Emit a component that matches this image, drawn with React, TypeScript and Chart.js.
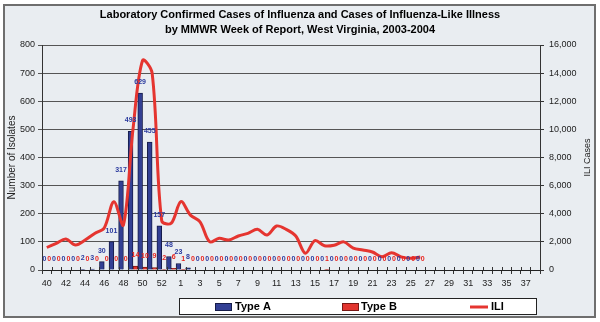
import React, { useEffect, useRef } from 'react';
import { Chart, registerables } from 'chart.js';

Chart.register(...registerables);

// ---- data ----
const weekLabels = [
  '40', '41', '42', '43', '44', '45', '46', '47', '48', '49', '50', '51', '52', '53',
  '1', '2', '3', '4', '5', '6', '7', '8', '9', '10', '11', '12', '13', '14', '15', '16', '17', '18', '19',
  '20', '21', '22', '23', '24', '25', '26', '27', '28', '29', '30', '31', '32', '33', '34', '35', '36', '37', '38',
];

// weeks 40..53, 1..26
const typeA = [
  0, 0, 0, 0, 2, 3, 30, 101, 317, 493, 629, 455, 157, 48,
  23, 8, 0, 0, 0, 0, 0, 0, 0, 0, 0, 0, 0, 0, 0, 0, 0, 0, 0, 0, 0, 0, 0, 0, 0, 0,
];

const typeB = [
  0, 0, 0, 0, 0, 0, 0, 0, 0, 14, 10, 9, 2, 6,
  1, 0, 0, 0, 0, 0, 0, 0, 0, 0, 0, 0, 0, 0, 0, 1, 0, 0, 0, 0, 0, 0, 0, 0, 0, 0,
];

const iliCases = [
  1600, 1900, 2200, 1780, 2130, 2600, 2990, 4860, 3200, 10000, 14900, 14000, 3500, 3330,
  4860, 3900, 3430, 2010, 2250, 2130, 2420, 2610, 2890, 2490, 3130, 2890, 2420, 1190, 2090, 1720,
  1760, 2000, 1560, 1420, 1280, 950, 1230, 930, 830, 930,
];

const titleLines = [
  'Laboratory Confirmed Cases of Influenza and Cases of Influenza-Like Illness',
  'by MMWR Week of Report, West Virginia, 2003-2004',
];
const leftAxisTitle = 'Number of Isolates';
const rightAxisTitle = 'ILI Cases';

const FONT = '"Liberation Sans", Arial, Helvetica, sans-serif';
const BLUE = '#323f94';
const BLUE_EDGE = '#161c4a';
const RED_BAR = '#e2352f';
const RED_EDGE = '#7a1815';
const RED_LINE = '#e53530';
const LABEL_BLUE = '#2a3a9e';
const LABEL_RED = '#e8231e';
const BG = '#e9edf1';

const backgroundPlugin = {
  id: 'bgFrame',
  beforeDraw(chart: any) {
    const { ctx, width, height } = chart;
    ctx.save();
    ctx.fillStyle = '#ffffff';
    ctx.fillRect(0, 0, width, height);
    ctx.fillStyle = BG;
    ctx.fillRect(4, 5, 591, 312);
    ctx.strokeStyle = '#6e6e6e';
    ctx.lineWidth = 2;
    ctx.strokeRect(4, 5, 591, 312);
    ctx.restore();
  },
};

const dataLabelPlugin = {
  id: 'dataLabels',
  afterDatasetsDraw(chart: any) {
    const { ctx } = chart;
    ctx.save();
    ctx.font = `bold 7px ${FONT}`;
    ctx.textAlign = 'center';
    ctx.textBaseline = 'middle';
    [0, 1].forEach((di) => {
      const meta = chart.getDatasetMeta(di);
      const ds = chart.data.datasets[di];
      ctx.fillStyle = di === 0 ? LABEL_BLUE : LABEL_RED;
      meta.data.forEach((el: any, i: number) => {
        const v = ds.data[i];
        if (v === null || v === undefined) return;
        ctx.fillText(String(v), el.x, el.y - 11);
      });
    });
    ctx.restore();
  },
};

const extrasPlugin = {
  id: 'extras',
  afterDraw(chart: any) {
    const { ctx, chartArea } = chart;
    const xs = chart.scales.x;
    ctx.save();
    // inward half of the crossing tick marks on the category axis
    const half = (xs.getPixelForValue(1) - xs.getPixelForValue(0)) / 2;
    ctx.strokeStyle = '#333';
    ctx.lineWidth = 1;
    ctx.beginPath();
    for (let i = 0; i <= weekLabels.length; i++) {
      const x = Math.round(xs.getPixelForValue(i) - half) + 0.5;
      ctx.moveTo(x, chartArea.bottom - 3);
      ctx.lineTo(x, chartArea.bottom);
    }
    ctx.stroke();

    // right axis title, reading bottom to top
    ctx.fillStyle = '#222';
    ctx.font = `9px ${FONT}`;
    ctx.textAlign = 'center';
    ctx.textBaseline = 'middle';
    ctx.translate(588, (chartArea.top + chartArea.bottom) / 2);
    ctx.rotate(-Math.PI / 2);
    ctx.fillText(rightAxisTitle, 0, 0);
    ctx.restore();

    // legend
    ctx.save();
    ctx.fillStyle = '#ffffff';
    ctx.fillRect(179.5, 298.5, 357, 16);
    ctx.strokeStyle = '#222';
    ctx.lineWidth = 1;
    ctx.strokeRect(179.5, 298.5, 357, 16);
    const ds = chart.data.datasets;
    const cy = 307;
    ctx.font = `bold 11px ${FONT}`;
    ctx.textBaseline = 'middle';
    ctx.textAlign = 'left';
    // Type A
    ctx.fillStyle = ds[0].backgroundColor;
    ctx.fillRect(215, 303, 17, 8);
    ctx.strokeStyle = ds[0].borderColor;
    ctx.strokeRect(215.5, 303.5, 16, 7);
    ctx.fillStyle = '#000';
    ctx.fillText(ds[0].label, 235, cy);
    // Type B
    ctx.fillStyle = ds[1].backgroundColor;
    ctx.fillRect(342, 303, 17, 8);
    ctx.strokeStyle = ds[1].borderColor;
    ctx.strokeRect(342.5, 303.5, 16, 7);
    ctx.fillStyle = '#000';
    ctx.fillText(ds[1].label, 361, cy);
    // ILI
    ctx.strokeStyle = ds[2].borderColor;
    ctx.lineWidth = 3;
    ctx.beginPath();
    ctx.moveTo(470, cy);
    ctx.lineTo(488, cy);
    ctx.stroke();
    ctx.fillStyle = '#000';
    ctx.fillText(ds[2].label, 491, cy);
    ctx.restore();
  },
};

export default function App() {
  const canvasRef = useRef<HTMLCanvasElement | null>(null);

  useEffect(() => {
    document.body.style.margin = '0';
    const canvas = canvasRef.current;
    if (!canvas) return;
    const tickFont = { family: FONT, size: 9 };
    const chart = new Chart(canvas, {
      type: 'bar',
      data: {
        labels: weekLabels,
        datasets: [
          {
            type: 'bar',
            label: 'Type A',
            data: typeA,
            backgroundColor: BLUE,
            borderColor: BLUE_EDGE,
            borderWidth: 1,
            yAxisID: 'y',
            order: 2,
            categoryPercentage: 1.0,
            barPercentage: 1.0,
          },
          {
            type: 'bar',
            label: 'Type B',
            data: typeB,
            backgroundColor: RED_BAR,
            borderColor: RED_EDGE,
            borderWidth: 1,
            yAxisID: 'y',
            order: 2,
            categoryPercentage: 1.0,
            barPercentage: 1.0,
          },
          {
            type: 'line',
            label: 'ILI',
            data: iliCases,
            borderColor: RED_LINE,
            backgroundColor: RED_LINE,
            borderWidth: 3,
            pointRadius: 0,
            tension: 0.33,
            yAxisID: 'y1',
            order: 1,
          },
        ],
      } as any,
      options: {
        responsive: false,
        animation: false,
        layout: { padding: { top: 0, left: 0, right: 0, bottom: 34 } },
        plugins: {
          legend: { display: false },
          tooltip: { enabled: false },
          title: {
            display: true,
            text: titleLines,
            color: '#000',
            font: { family: FONT, size: 11, weight: 'bold', lineHeight: 1.4 },
            padding: { top: 7, bottom: 7.2 },
          },
        },
        scales: {
          x: {
            grid: { display: true, drawOnChartArea: false, offset: true, tickLength: 4, color: '#333' },
            border: { display: true, color: '#222', width: 1 },
            ticks: {
              autoSkip: false,
              maxRotation: 0,
              minRotation: 0,
              padding: 4,
              font: tickFont,
              color: '#222',
              callback: (_v: any, i: number) => (i % 2 === 0 ? weekLabels[i] : ''),
            },
            afterFit: (s: any) => {
              s.height = 18;
            },
          },
          y: {
            position: 'left',
            min: 0,
            max: 800,
            ticks: { stepSize: 100, padding: 3, font: tickFont, color: '#222' },
            grid: { color: '#555', tickLength: 4 },
            border: { display: true, color: '#333', width: 1 },
            title: {
              display: true,
              text: leftAxisTitle,
              color: '#222',
              font: { family: FONT, size: 10 },
              padding: { top: 6, bottom: 0 },
            },
            afterFit: (s: any) => {
              s.width = 42;
            },
          },
          y1: {
            position: 'right',
            min: 0,
            max: 16000,
            ticks: {
              stepSize: 2000,
              padding: 5,
              font: tickFont,
              color: '#222',
              callback: (v: any) => Number(v).toLocaleString('en-US'),
            },
            grid: { drawOnChartArea: false, tickLength: 4, color: '#333' },
            border: { display: true, color: '#333', width: 1 },
            afterFit: (s: any) => {
              s.width = 60;
            },
          },
        },
      } as any,
      plugins: [backgroundPlugin, dataLabelPlugin, extrasPlugin],
    });
    return () => chart.destroy();
  }, []);

  return (
    <div style={{ width: 600, height: 322 }}>
      <canvas ref={canvasRef} width={600} height={322} style={{ display: 'block' }} />
    </div>
  );
}
